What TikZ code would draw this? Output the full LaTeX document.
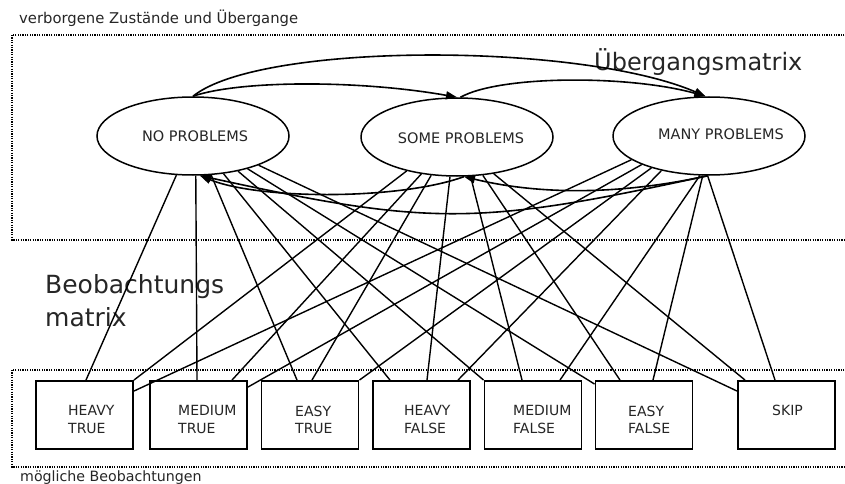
\documentclass[tikz,border=0pt]{standalone}
\usepackage{fontspec}
\setmainfont{DejaVu Sans}
\usetikzlibrary{arrows.meta,shapes.geometric}
\begin{document}
\begin{tikzpicture}[x=1pt,y=-1pt,
  state/.style={ellipse,draw,line width=1.5pt,minimum width=192pt,minimum height=78pt,inner sep=0pt},
  obs/.style={rectangle,draw,line width=1.9pt,minimum width=97pt,minimum height=68pt,inner sep=0pt},
  obslabel/.style={anchor=north west,align=left,inner sep=0pt,text=black!85,font=\fontsize{14}{17.3}\selectfont},
  statelabel/.style={font=\fontsize{14.5}{17}\selectfont,text=black!85,inner sep=0pt},
  plain/.style={anchor=base west,inner sep=0pt,text=black!85},
  link/.style={line width=1.4pt},
  trans/.style={line width=1.6pt,-{Triangle[length=11pt,width=8pt]}},
  region/.style={line width=1.3pt,dash pattern=on 1.2pt off 1.2pt},
]
\useasboundingbox (0,0) rectangle (845,484);
\fill[white] (0,0) rectangle (845,484);

% regions
\draw[region] (12,35) rectangle (852,240);
\draw[region] (12,370) rectangle (852,467);

% captions
\node[plain,font=\fontsize{14.8}{17}\selectfont] (hiddencap) at (19,24) {verborgene Zustände und Übergange};
\node[plain,font=\fontsize{14.2}{17}\selectfont] (obscap) at (20,481) {mögliche Beobachtungen};
\node[plain,font=\fontsize{24}{29}\selectfont] (amat) at (594,70.5) {Übergangsmatrix};
\node[plain,font=\fontsize{25}{30}\selectfont] (bmatA) at (45,293.5) {Beobachtungs};
\node[plain,font=\fontsize{25}{30}\selectfont] (bmatB) at (45,326) {matrix};

% hidden states
\node[state,label={[statelabel,xshift=2pt]center:NO PROBLEMS}] (no) at (193,136) {};
\node[state,label={[statelabel,xshift=4pt,yshift=-1pt]center:SOME PROBLEMS}] (some) at (457,137) {};
\node[state,label={[statelabel,xshift=12pt,yshift=1.5pt]center:MANY PROBLEMS}] (many) at (709,136) {};

% observations
\node[obs] (ht) at (84.5,415) {};
\node[obs] (mt) at (198.5,415) {};
\node[obs] (et) at (310,415) {};
\node[obs] (hf) at (421.5,415) {};
\node[obs] (mf) at (533,415) {};
\node[obs] (ef) at (644,415) {};
\node[obs] (sk) at (786.5,415) {};

\node[obslabel] (htl) at (68,405.5) {HEAVY\\TRUE};
\node[obslabel] (mtl) at (178,405.5) {MEDIUM\\TRUE};
\node[obslabel] (etl) at (295,405.5) {EASY\\TRUE};
\node[obslabel] (hfl) at (404,405.5) {HEAVY\\FALSE};
\node[obslabel] (mfl) at (513,405.5) {MEDIUM\\FALSE};
\node[obslabel] (efl) at (628,405.5) {EASY\\FALSE};
\node[obslabel] (skl) at (772,405) {SKIP};

% emission links from NO PROBLEMS
\draw[link] (no.-113) -- ([xshift=1.5pt]ht.north);
\draw[link] (no.-86) -- ([xshift=-1.5pt]mt.north);
\draw[link] (no.-65) -- ([xshift=-13pt]et.north);
\draw[link] (no.-51) -- ([xshift=-31.5pt]hf.north);
\draw[link] (no.-38) -- (mf.north west);
\draw[link] (no.-31) -- ([yshift=-4pt]ef.north west);
\draw[link] (no.-24) -- ([yshift=-11pt]sk.north west);

% emission links from SOME PROBLEMS
\draw[link] (some.-146) -- (ht.north east);
\draw[link] (some.-134) -- ([xshift=33.5pt]mt.north);
\draw[link] (some.-124) -- ([xshift=2pt]et.north);
\draw[link] (some.-100) -- ([xshift=5.5pt]hf.north);
\draw[link] (some.-71) -- ([xshift=-11pt]mf.north);
\draw[link] (some.-56) -- ([xshift=-24pt]ef.north);
\draw[link] (some.-45) -- ([xshift=-41.5pt]sk.north);

% emission links from MANY PROBLEMS
\draw[link] (many.-163) -- ([yshift=-11pt]ht.north east);
\draw[link] (many.-157) -- ([yshift=-7pt]mt.north east);
\draw[link] (many.-151) -- (et.north east);
\draw[link] (many.-144) -- ([xshift=36.5pt]hf.north);
\draw[link] (many.-103) -- ([xshift=27pt]mf.north);
\draw[link] (many.-99) -- ([xshift=9pt]ef.north);
\draw[link] (many.-92) -- ([xshift=-11.5pt]sk.north);

% transitions
\draw[trans] (no.north) .. controls (240,80) and (360,80) .. (some.north);
\draw[trans] (no.north) .. controls (260,42) and (580,42) .. (many.95);
\draw[trans] (some.85) .. controls (500,75) and (630,75) .. (many.95);
\draw[trans] (some.-80) .. controls (400,200) and (260,200) .. (no.-80);
\draw[trans] (many.-92) .. controls (477,226) and (430,226) .. (no.-80);
\draw[trans] (many.-92) .. controls (620,195) and (540,195) .. (some.-80);
\end{tikzpicture}
\end{document}
